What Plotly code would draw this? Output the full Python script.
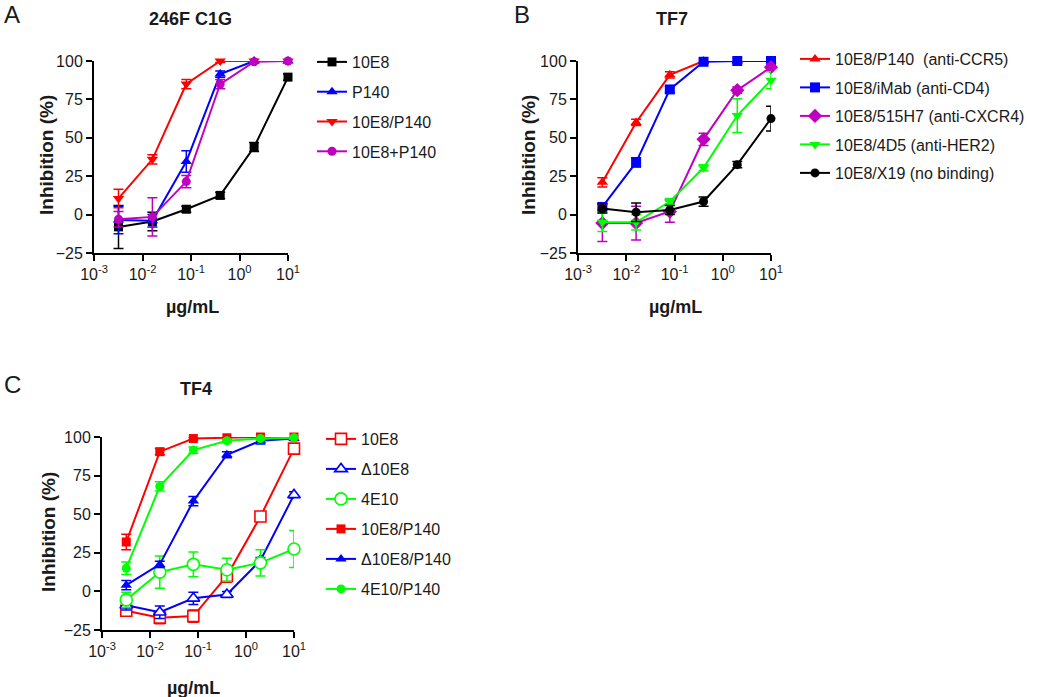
import plotly.graph_objects as go

W, H = 1050, 697

# ---------------- data ----------------
conc = [0.0032, 0.016, 0.08, 0.4, 2, 10]

# Panel A: 246F C1G
a_names = ["10E8", "P140", "10E8/P140", "10E8+P140"]
a_10e8 = [-8, -4.5, 3.5, 12.5, 44, 89.5]
a_10e8_err = [14, 6, 2, 2, 3, 2]
a_p140 = [-3.5, -4, 34.5, 91.5, 100, 100]
a_p140_err = [9, 4, 7, 2, 1, 1]
a_10e8p140 = [10.5, 36, 85, 100, 100, 100]
a_10e8p140_err = [6, 3, 3, 1, 1, 1]
a_combo = [-3, -1.5, 21.5, 85, 99.5, 100]
a_combo_err = [5, 12.5, 4, 3, 1, 1]

# Panel B: TF7
b_names = ["10E8/P140  (anti-CCR5)", "10E8/iMab (anti-CD4)", "10E8/515H7 (anti-CXCR4)",
           "10E8/4D5 (anti-HER2)", "10E8/X19 (no binding)"]
b_p140 = [21, 60, 91, 100, 100, 100]
b_p140_err = [3, 2, 2, 1, 1, 1]
b_imab = [5, 34, 81.5, 99.5, 100, 100]
b_imab_err = [2, 3, 2, 1, 1, 1]
b_515h7 = [-5.5, -5.5, 2, 49, 81, 96]
b_515h7_err = [12, 11, 7, 4, 2, 2]
b_4d5 = [-5, -5, 8.5, 30.5, 64.5, 87.5]
b_4d5_err = [6, 5, 2, 2, 11, 5.5]
b_x19 = [4, 1.5, 3, 8.5, 32.5, 62.5]
b_x19_err = [3, 6, 3, 3, 2, 8]

# Panel C: TF4
c_names = ["10E8", "\u039410E8", "4E10", "10E8/P140", "\u039410E8/P140", "4E10/P140"]
c_10e8 = [-12.5, -17, -16, 10, 48.5, 92.5]
c_10e8_err = [2, 4, 4, 4, 2, 2]
c_d10e8 = [-9, -13.5, -4.5, -2, 20, 62.5]
c_d10e8_err = [3, 4, 4, 2, 2, 2]
c_4e10 = [-5.5, 12.5, 17.5, 14, 18.5, 27.5]
c_4e10_err = [5, 10.5, 8, 7.5, 8.5, 12]
c_10e8p140 = [32, 90.5, 99, 99.5, 100, 100]
c_10e8p140_err = [5, 2, 1, 1, 1, 1]
c_d10e8p140 = [4, 17.5, 58.5, 88.5, 97.5, 99]
c_d10e8p140_err = [3, 2, 3, 2, 2, 1]
c_4e10p140 = [15, 68, 91.5, 97.5, 99, 99.5]
c_4e10p140_err = [4, 3, 2, 1, 1, 1]

x_tickvals = [0.001, 0.01, 0.1, 1, 10]
x_ticktext = ["10<sup>-3</sup>", "10<sup>-2</sup>", "10<sup>-1</sup>", "10<sup>0</sup>", "10<sup>1</sup>"]
y_tickvals = [-25, 0, 25, 50, 75, 100]

RED, BLUE, GREEN, MAG, BLACK = "#ff0000", "#0000ff", "#00ff00", "#c000c0", "#000000"
FONT = "Arial, 'Liberation Sans', sans-serif"
TXT = "#1a1a1a"

fig = go.Figure()


def add(y, err, name, color, symbol, xa, ya, legend, size=9, open_=False):
    fig.add_trace(go.Scatter(
        x=conc, y=y, name=name, mode="lines+markers",
        xaxis=xa, yaxis=ya, legend=legend, legendgroup=legend + name,
        line=dict(color=color, width=2),
        marker=dict(color="white" if open_ else color, symbol=symbol, size=size,
                    line=dict(color=color, width=1.6 if open_ else 0)),
        error_y=dict(type="data", array=err, visible=True, color=color,
                     thickness=1.5, width=5),
        cliponaxis=False,
    ))


# Panel A
add(a_10e8, a_10e8_err, a_names[0], BLACK, "square", "x", "y", "legend", 9)
add(a_p140, a_p140_err, a_names[1], BLUE, "triangle-up", "x", "y", "legend", 10)
add(a_10e8p140, a_10e8p140_err, a_names[2], RED, "triangle-down", "x", "y", "legend", 10)
add(a_combo, a_combo_err, a_names[3], MAG, "circle", "x", "y", "legend", 9)

# Panel B
add(b_p140, b_p140_err, b_names[0], RED, "triangle-up", "x2", "y2", "legend2", 10)
add(b_imab, b_imab_err, b_names[1], BLUE, "square", "x2", "y2", "legend2", 10)
add(b_515h7, b_515h7_err, b_names[2], MAG, "diamond", "x2", "y2", "legend2", 11)
add(b_4d5, b_4d5_err, b_names[3], GREEN, "triangle-down", "x2", "y2", "legend2", 10)
add(b_x19, b_x19_err, b_names[4], BLACK, "circle", "x2", "y2", "legend2", 9)

# Panel C
add(c_10e8, c_10e8_err, c_names[0], RED, "square", "x3", "y3", "legend3", 11, True)
add(c_d10e8, c_d10e8_err, c_names[1], BLUE, "triangle-up", "x3", "y3", "legend3", 11, True)
add(c_4e10, c_4e10_err, c_names[2], GREEN, "circle", "x3", "y3", "legend3", 12, True)
add(c_10e8p140, c_10e8p140_err, c_names[3], RED, "square", "x3", "y3", "legend3", 9)
add(c_d10e8p140, c_d10e8p140_err, c_names[4], BLUE, "triangle-up", "x3", "y3", "legend3", 10)
add(c_4e10p140, c_4e10p140_err, c_names[5], GREEN, "circle", "x3", "y3", "legend3", 9)


def px_x(p):
    return p / W


def px_y(p):
    return 1 - p / H


axis_common = dict(showline=True, linecolor="black", linewidth=2, ticks="outside",
                   ticklen=6, tickwidth=2, tickcolor="black", showgrid=False, zeroline=False,
                   tickfont=dict(family=FONT, size=16, color=TXT))

xax = dict(type="log", range=[-3, 1], tickvals=x_tickvals, ticktext=x_ticktext, **axis_common)
yax = dict(range=[-25, 100], tickvals=y_tickvals, **axis_common)

layout = dict(
    width=W, height=H, margin=dict(l=0, r=0, t=0, b=0, autoexpand=False),
    paper_bgcolor="white", plot_bgcolor="white",
    font=dict(family=FONT, color=TXT),
    xaxis=dict(domain=[px_x(94), px_x(288)], anchor="y", **xax),
    yaxis=dict(domain=[px_y(253), px_y(61)], anchor="x", **yax),
    xaxis2=dict(domain=[px_x(578), px_x(771)], anchor="y2", **xax),
    yaxis2=dict(domain=[px_y(253), px_y(61)], anchor="x2", **yax),
    xaxis3=dict(domain=[px_x(102), px_x(294)], anchor="y3", **xax),
    yaxis3=dict(domain=[px_y(630), px_y(437)], anchor="x3", **yax),
)

leg_common = dict(bgcolor="rgba(0,0,0,0)", borderwidth=0, xanchor="left", yanchor="top",
                  font=dict(family=FONT, size=16, color=TXT), traceorder="grouped",
                  itemwidth=30)
layout["legend"] = dict(x=px_x(312), y=px_y(45), tracegroupgap=6, **leg_common)
layout["legend2"] = dict(x=px_x(795), y=px_y(42), tracegroupgap=4.7, **leg_common)
layout["legend3"] = dict(x=px_x(321), y=px_y(422), tracegroupgap=6.2, **leg_common)

fig.update_layout(**layout)

ann = []


def text(x, y, s, size, bold=False, angle=0):
    ann.append(dict(x=px_x(x), y=px_y(y), xref="paper", yref="paper", text=f"<b>{s}</b>" if bold else s,
                    showarrow=False, textangle=angle, xanchor="center", yanchor="middle",
                    font=dict(family=FONT, size=size, color=TXT)))


text(12, 14, "A", 24)
text(522, 14, "B", 24)
text(12, 384, "C", 24)
text(190, 19, "246F C1G", 18, True)
text(672, 19, "TF7", 18, True)
text(196, 389, "TF4", 18, True)
text(46, 155, "Inhibition (%)", 19, True, -90)
text(528, 155, "Inhibition (%)", 19, True, -90)
text(48, 532, "Inhibition (%)", 19, True, -90)
text(192, 307, "\u00b5g/mL", 18, True)
text(675, 307, "\u00b5g/mL", 18, True)
text(193, 688, "\u00b5g/mL", 18, True)
fig.update_layout(annotations=ann)

fig.write_html("out.html", config={"displayModeBar": False},
               post_script="document.body.style.margin='0';document.body.style.overflow='hidden';")
